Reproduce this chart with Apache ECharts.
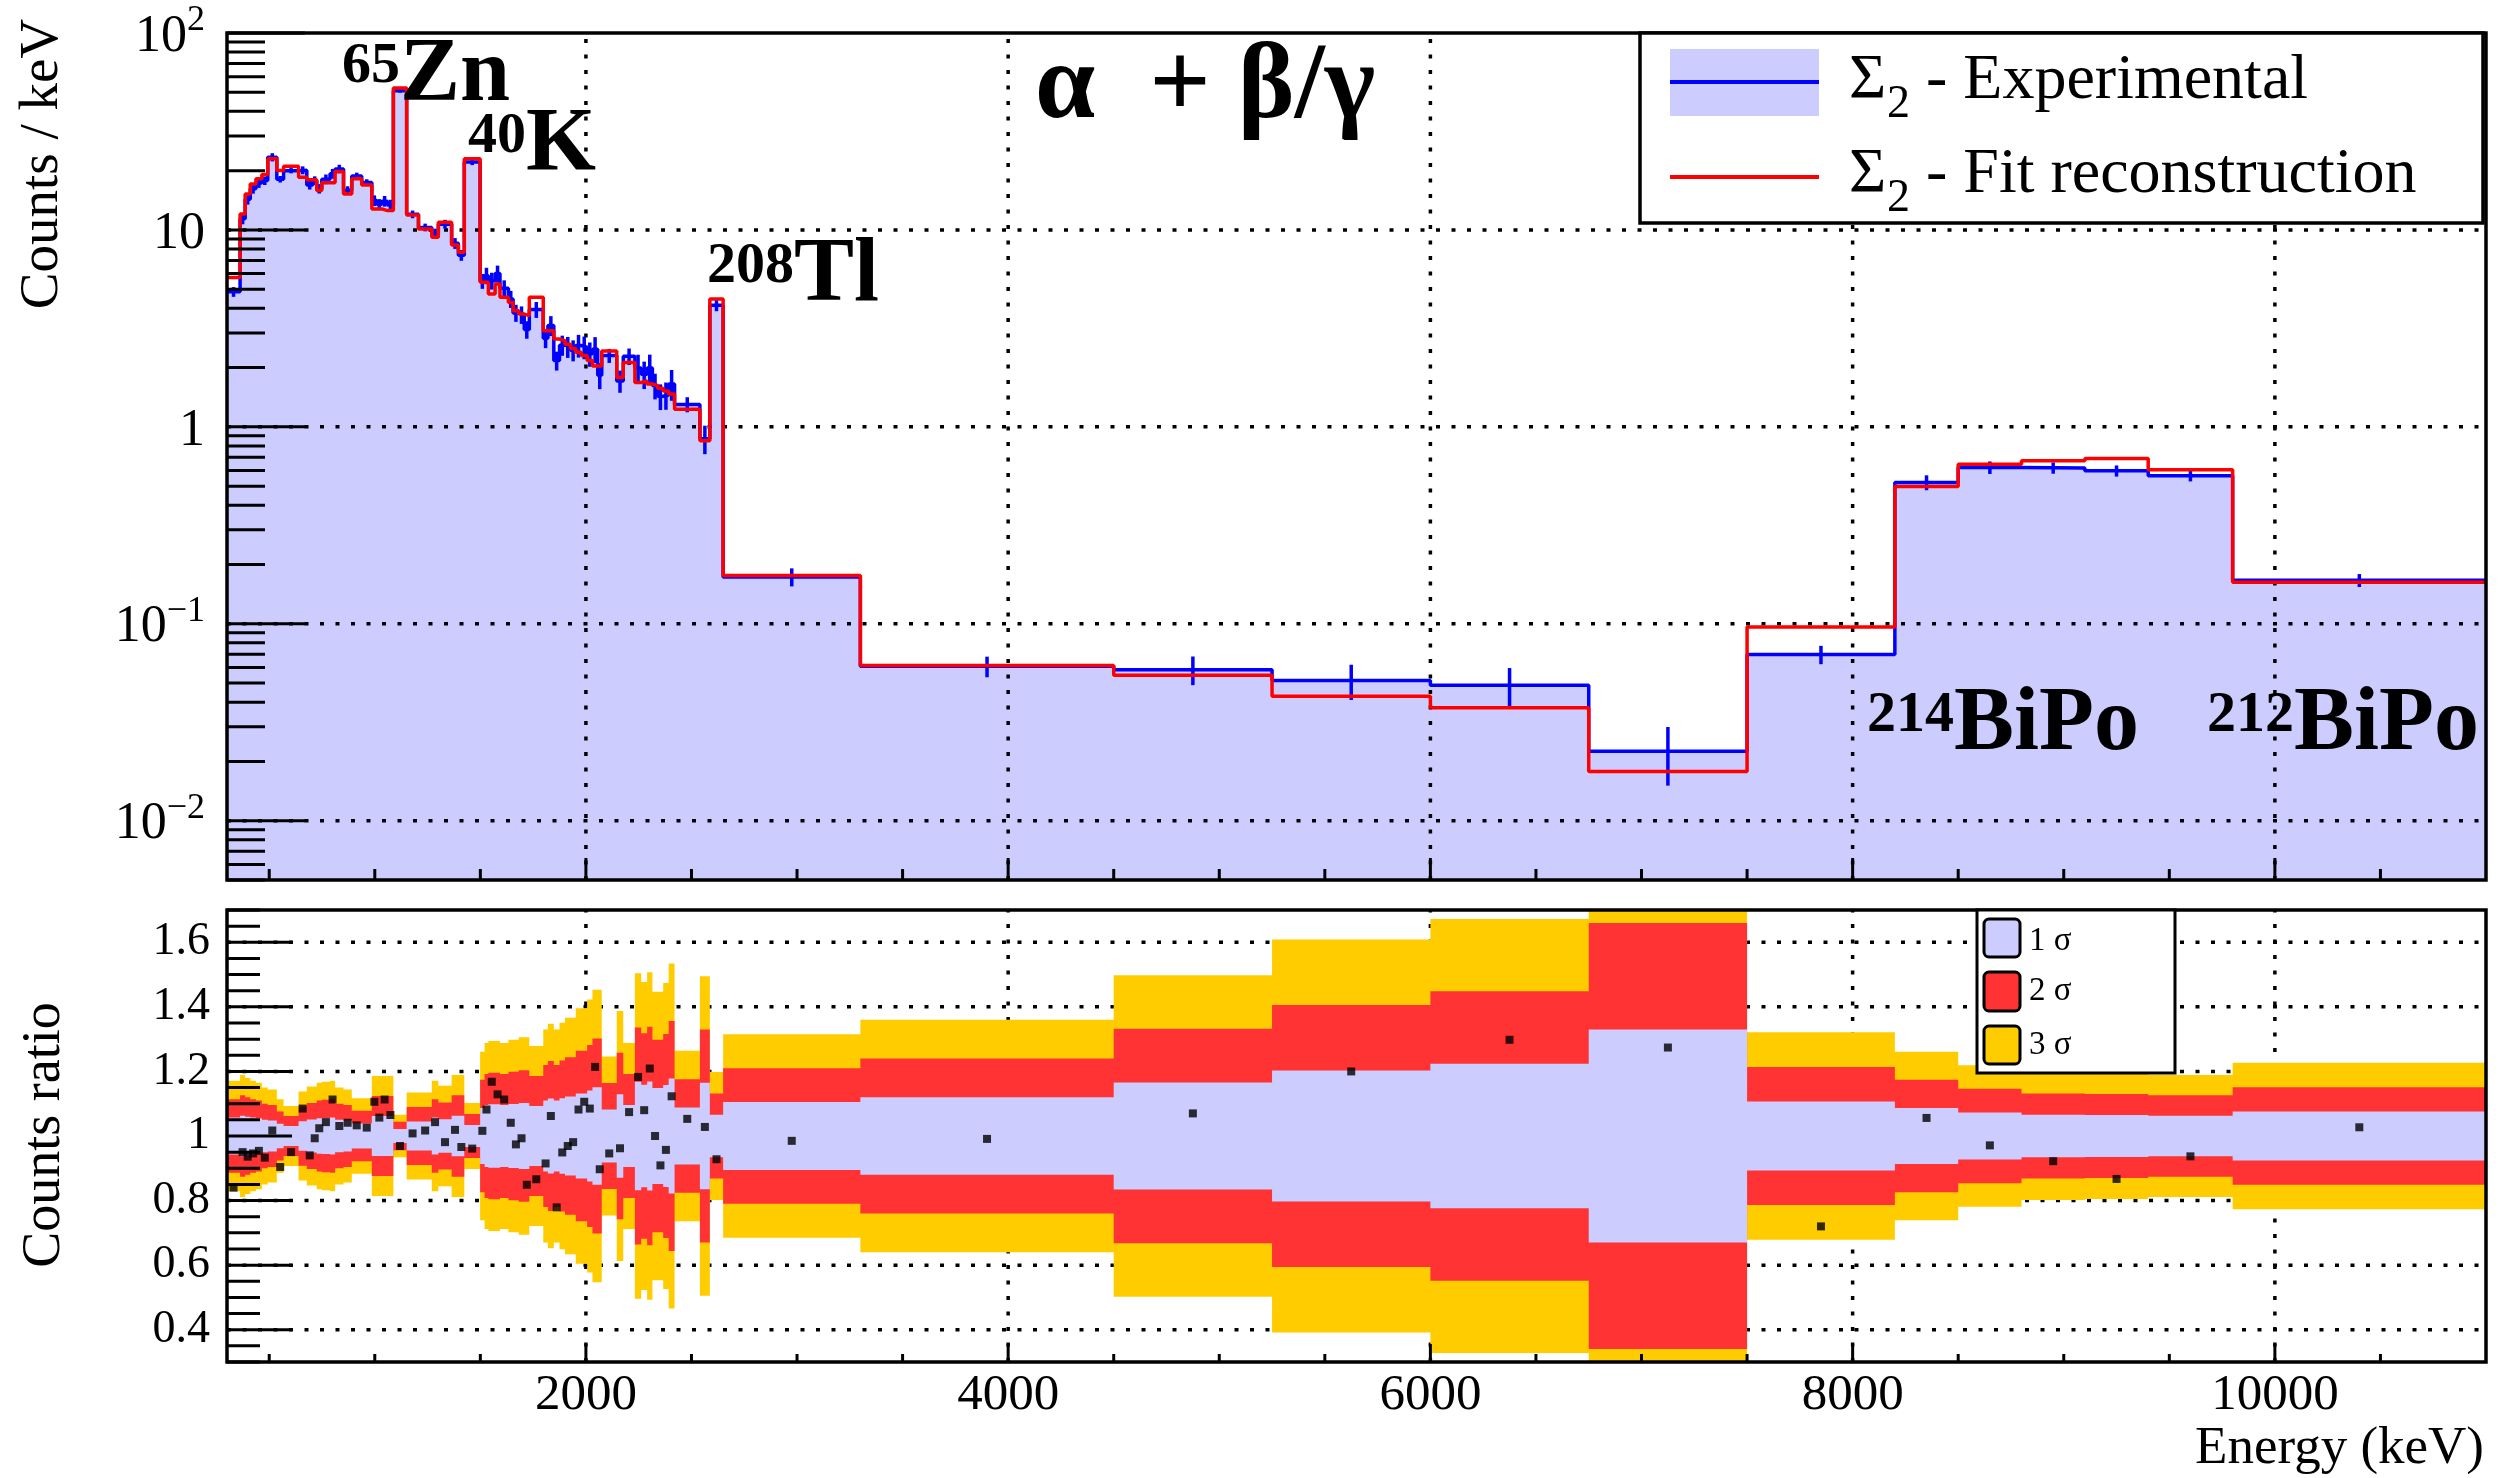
<!DOCTYPE html>
<html>
<head>
<meta charset="utf-8">
<script src="https://cdn.jsdelivr.net/npm/echarts@6/dist/echarts.min.js"></script>
<style>
  html, body { margin: 0; padding: 0; background: #fff; }
  #chart { width: 2517px; height: 1478px; }
</style>
</head>
<body>
<div id="chart"></div>
<script>
// bin edges in keV (variable binning)
const binEdges = [300, 362, 386, 410, 437, 465, 493, 536, 568, 639, 678, 706, 725, 749, 788, 812, 852, 891, 938, 986,
  1010, 1033, 1060, 1088, 1151, 1207, 1270, 1301, 1364, 1396, 1424, 1499, 1520, 1538, 1570, 1593, 1633, 1655, 1682, 1708,
  1732, 1798, 1820, 1848, 1875, 1901, 1927, 1952, 1978, 2006, 2031, 2056, 2075, 2146, 2177, 2232, 2262, 2290, 2315, 2340,
  2366, 2392, 2420, 2540, 2587, 2650, 3300, 4500, 5250, 6000, 6750, 7500, 8200, 8500, 8800, 9100, 9400, 9800, 11000];

// Sigma_2 experimental, counts / keV
const expCounts = [4.85, 11.4, 14.3, 16.2, 17.3, 17.8, 23.4, 18.1, 20.0, 20.1,
  16.9, 17.8, 16.2, 18.1, 19.3, 20.4, 15.9, 18.8, 17.4, 14.1,
  13.5, 14.0, 13.4, 50.9, 12.0, 10.3, 9.6, 10.7, 8.55, 7.44,
  22.1, 5.5, 5.86, 5.52, 6.0, 5.06, 4.46, 3.79, 3.71, 3.12,
  3.94, 2.82, 3.27, 2.17, 2.60, 2.55, 2.45, 2.59, 2.54, 2.35,
  2.48, 1.83, 2.30, 1.71, 2.28, 1.99, 1.85, 1.99, 1.62, 1.43,
  1.45, 1.65, 1.30, 0.87, 4.14,
  0.173, 0.0608, 0.0585, 0.0515, 0.0487, 0.0225, 0.0698, 0.522, 0.622, 0.619, 0.598, 0.564, 0.1663];

// Sigma_2 fit reconstruction, counts / keV
const fitCounts = [5.74, 12.06, 15.24, 17.13, 18.17, 19.11, 22.96, 20.03, 21.07, 18.52,
  17.96, 17.96, 15.85, 17.34, 17.34, 19.79, 15.24, 18.17, 16.93, 12.79,
  12.79, 12.54, 12.54, 52.5, 11.92, 10.12, 9.18, 10.94, 8.39, 7.70,
  23.0, 5.42, 5.42, 4.73, 5.31, 4.55, 4.28, 3.89, 3.74, 3.67,
  4.55, 3.08, 3.08, 2.79, 2.74, 2.63, 2.50, 2.39, 2.30, 2.17,
  2.04, 2.04, 2.43, 1.78, 2.12, 1.68, 1.71, 1.65, 1.62, 1.57,
  1.52, 1.47, 1.23, 0.85, 4.46,
  0.176, 0.0614, 0.0548, 0.0428, 0.0375, 0.0178, 0.0962, 0.498, 0.646, 0.672, 0.690, 0.605, 0.1624];

// experimental / fit
const countsRatio = [0.84, 0.95, 0.936, 0.946, 0.954, 0.933, 1.017, 0.904, 0.95, 1.085,
  0.94, 0.993, 1.024, 1.043, 1.113, 1.031, 1.041, 1.033, 1.026, 1.106,
  1.057, 1.113, 1.065, 0.969, 1.008, 1.017, 1.043, 0.981, 1.019, 0.966,
  0.961, 1.016, 1.082, 1.168, 1.129, 1.113, 1.041, 0.974, 0.993, 0.849,
  0.866, 0.915, 1.062, 0.779, 0.949, 0.969, 0.981, 1.082, 1.106, 1.085,
  1.214, 0.897, 0.946, 0.962, 1.074, 1.183, 1.08, 1.209, 1.0, 0.909,
  0.957, 1.123, 1.053, 1.028, 0.928,
  0.985, 0.991, 1.070, 1.20, 1.298, 1.274, 0.72, 1.056, 0.971, 0.922, 0.867, 0.937, 1.027];

// relative 1 sigma uncertainty per bin
const relError = [0.057, 0.063, 0.060, 0.057, 0.055, 0.050, 0.048, 0.038, 0.031, 0.046,
  0.051, 0.051, 0.055, 0.056, 0.057, 0.050, 0.048, 0.039, 0.039, 0.062,
  0.062, 0.062, 0.062, 0.022, 0.045, 0.045, 0.057, 0.052, 0.063, 0.063,
  0.034, 0.087, 0.096, 0.098, 0.098, 0.096, 0.0995, 0.0995, 0.102, 0.102,
  0.093, 0.110, 0.116, 0.110, 0.117, 0.122, 0.122, 0.132, 0.132, 0.141,
  0.151, 0.151, 0.082, 0.129, 0.096, 0.168, 0.159, 0.169, 0.149, 0.149,
  0.158, 0.178, 0.088, 0.165, 0.066,
  0.105, 0.120, 0.166, 0.203, 0.224, 0.330, 0.107, 0.087, 0.073, 0.066, 0.065, 0.063, 0.0755];

const energyTicks = [2000, 4000, 6000, 8000, 10000];
const countTicks = [0.01, 0.1, 1, 10, 100];
const ratioTicks = [0.4, 0.6, 0.8, 1, 1.2, 1.4, 1.6];

const SERIF = 'Liberation Serif';
const xLo = binEdges[0], xHi = binEdges[binEdges.length - 1];
const countsMin = 0.005, countsMax = 100, ratioMin = 0.3, ratioMax = 1.7;

const centers = expCounts.map((_, i) => (binEdges[i] + binEdges[i + 1]) / 2);

function stepData(vals) {
  const pts = vals.map((v, i) => [binEdges[i], v]);
  pts.push([xHi, vals[vals.length - 1]]);
  return pts;
}

// ticks, dotted grid and frame drawn through the axes
// item: [x, y, length, kind] kind 0 y-tick, 1 y-grid, 2 x-tick, 3 x-grid, 4 frame
function decorSeries(gi, items, ext, z) {
  return {
    type: 'custom', xAxisIndex: gi, yAxisIndex: gi, z: z, silent: true,
    data: items,
    renderItem: function (params, api) {
      const x = api.value(0), y = api.value(1), len = api.value(2), kind = api.value(3);
      if (kind === 4) {
        const a = api.coord([ext.x0, ext.y1]), b = api.coord([ext.x1, ext.y0]);
        return { type: 'rect', shape: { x: a[0], y: a[1], width: b[0] - a[0], height: b[1] - a[1] },
          style: { fill: 'none', stroke: '#000', lineWidth: 3.5 } };
      }
      let p, q;
      if (kind === 0 || kind === 1) {
        p = api.coord([ext.x0, y]);
        q = kind === 0 ? [p[0] + len, p[1]] : api.coord([ext.x1, y]);
      } else {
        p = api.coord([x, ext.y0]);
        q = kind === 2 ? [p[0], p[1] - len] : api.coord([x, ext.y1]);
      }
      const dotted = kind === 1 || kind === 3;
      return { type: 'line', shape: { x1: p[0], y1: p[1], x2: q[0], y2: q[1] },
        style: { stroke: '#000', lineWidth: dotted ? 3.5 : 3, lineDash: dotted ? [4, 11.5] : null } };
    }
  };
}

const upperExt = { x0: xLo, x1: xHi, y0: countsMin, y1: countsMax };
const lowerExt = { x0: xLo, x1: xHi, y0: ratioMin, y1: ratioMax };

const upperTicks = [[xLo, countsMin, 0, 4]];
countTicks.forEach(v => upperTicks.push([xLo, v, 78, 0]));
for (let n = -3; n <= 1; n++) {
  for (let k = 2; k <= 9; k++) {
    const v = k * Math.pow(10, n);
    if (v >= countsMin * 0.999 && v <= countsMax) upperTicks.push([xLo, v, 38, 0]);
  }
}
for (let e = 500; e < xHi; e += 500) upperTicks.push([e, countsMin, energyTicks.includes(e) ? 22 : 11, 2]);
const upperGrid = [];
countTicks.filter(v => v < countsMax).forEach(v => upperGrid.push([xLo, v, 0, 1]));
energyTicks.forEach(e => upperGrid.push([e, countsMin, 0, 3]));

const lowerTicks = [[xLo, ratioMin, 0, 4]];
for (let j = 6; j <= 34; j++) lowerTicks.push([xLo, j * 0.05, j % 4 === 0 ? 65 : 33, 0]);
for (let e = 500; e < xHi; e += 500) lowerTicks.push([e, ratioMin, energyTicks.includes(e) ? 18 : 8, 2]);
const lowerGrid = [];
ratioTicks.forEach(v => lowerGrid.push([xLo, v, 0, 1]));
energyTicks.forEach(e => lowerGrid.push([e, ratioMin, 0, 3]));

const bandColors = { 1: '#ccccff', 2: '#ff3333', 3: '#ffcc00' };

function logLabel(v) {
  const lg = Math.log10(v), e = Math.round(lg);
  if (Math.abs(lg - e) > 1e-6) return '';
  if (e === 1) return '{b|10}';
  if (e === 0) return '{b|1}';
  if (e > 1) return '{b|10}{s|' + e + '}';
  return '{b|10}{s|\u2212' + (-e) + '}';
}

function superText(x, y, sup, main) {
  return {
    type: 'text', x: x, y: y, z: 100,
    style: {
      text: '{s|' + sup + '}{m|' + main + '}',
      align: 'left', verticalAlign: 'top', textAlign: 'left', textVerticalAlign: 'top',
      rich: {
        s: { fontFamily: SERIF, fontWeight: 'bold', fontSize: 58, lineHeight: 58, padding: [6, 0, 0, 0], verticalAlign: 'top', fill: '#000', color: '#000' },
        m: { fontFamily: SERIF, fontWeight: 'bold', fontSize: 90, lineHeight: 90, verticalAlign: 'top', fill: '#000', color: '#000' }
      }
    }
  };
}

function plainText(x, y, text, size, opts) {
  return Object.assign({
    type: 'text', x: x, y: y, z: 101,
    style: {
      text: text, fontFamily: SERIF, fontSize: size, fill: '#000',
      align: (opts && opts.align) || 'left', textAlign: (opts && opts.align) || 'left',
      verticalAlign: 'middle', textVerticalAlign: 'middle',
      fontWeight: (opts && opts.bold) ? 'bold' : 'normal'
    }
  }, opts && opts.rotation ? { rotation: opts.rotation } : {});
}

// Sigma with subscript 2, then the label text; y is the baseline
function legendLabel(y, rest) {
  return [
    plainText(1849, y - 21.6, '\u03A3', 64),
    plainText(1887, y + 17 - 15.5, '2', 46),
    plainText(1910, y - 21.6, ' - ' + rest, 64)
  ];
}

const chart = echarts.init(document.getElementById('chart'), null, { renderer: 'canvas' });

chart.setOption({
  animation: false,
  backgroundColor: '#fff',
  grid: [
    { left: 227, top: 33, width: 2259, height: 847, outerBoundsMode: 'none' },
    { left: 227, top: 910, width: 2259, height: 452, outerBoundsMode: 'none' }
  ],
  xAxis: [
    { gridIndex: 0, type: 'value', min: xLo, max: xHi,
      axisLine: { show: false }, axisTick: { show: false }, axisLabel: { show: false }, splitLine: { show: false } },
    { gridIndex: 1, type: 'value', min: xLo, max: xHi,
      axisLine: { show: false }, axisTick: { show: false }, splitLine: { show: false },
      axisLabel: { customValues: energyTicks,
        fontFamily: SERIF, fontSize: 51, color: '#000', margin: 8,
        formatter: v => energyTicks.includes(v) ? String(v) : '' } }
  ],
  yAxis: [
    { gridIndex: 0, type: 'log', logBase: 10, min: countsMin, max: countsMax,
      axisLine: { show: false }, axisTick: { show: false }, splitLine: { show: false }, minorTick: { show: false },
      axisLabel: { customValues: countTicks, margin: 22, formatter: logLabel,
        rich: {
          b: { fontFamily: SERIF, fontSize: 52, lineHeight: 60, verticalAlign: 'bottom', color: '#000' },
          s: { fontFamily: SERIF, fontSize: 36, lineHeight: 30, verticalAlign: 'top', color: '#000' }
        } } },
    { gridIndex: 1, type: 'value', min: ratioMin, max: ratioMax,
      axisLine: { show: false }, axisTick: { show: false }, splitLine: { show: false },
      axisLabel: { customValues: ratioTicks,
        fontFamily: SERIF, fontSize: 46, color: '#000', margin: 17,
        formatter: v => {
          const r = Math.round(v * 10) / 10;
          return Math.abs(r - v) < 1e-6 && r >= 0.4 && r <= 1.6 ? String(r) : '';
        } } }
  ],
  series: [
    // upper panel
    { type: 'line', xAxisIndex: 0, yAxisIndex: 0, step: 'end', data: stepData(expCounts), symbol: 'none',
      lineStyle: { width: 0, opacity: 0 }, areaStyle: { color: '#ccccff', opacity: 1, origin: 'start' }, z: 1, silent: true },
    decorSeries(0, upperGrid, upperExt, 2),
    { type: 'line', xAxisIndex: 0, yAxisIndex: 0, step: 'end', data: stepData(expCounts), symbol: 'none',
      lineStyle: { color: '#0000ff', width: 3.5 }, z: 3, silent: true },
    { type: 'custom', xAxisIndex: 0, yAxisIndex: 0, z: 3, silent: true, clip: true,
      data: centers.map((c, i) => [c, expCounts[i], expCounts[i] * (1 - relError[i]), expCounts[i] * (1 + relError[i])]),
      renderItem: function (params, api) {
        const p = api.coord([api.value(0), api.value(2)]), q = api.coord([api.value(0), api.value(3)]);
        return { type: 'line', shape: { x1: p[0], y1: p[1], x2: q[0], y2: q[1] }, style: { stroke: '#0000ff', lineWidth: 3.5 } };
      } },
    { type: 'line', xAxisIndex: 0, yAxisIndex: 0, step: 'end', data: stepData(fitCounts), symbol: 'none',
      lineStyle: { color: '#ff0000', width: 3.5 }, z: 4, silent: true },
    decorSeries(0, upperTicks, upperExt, 6),

    // lower panel
    decorSeries(1, lowerGrid, lowerExt, 1),
    { type: 'custom', xAxisIndex: 1, yAxisIndex: 1, z: 2, silent: true, clip: true,
      data: [[xLo, 1, 3], [xLo, 1, 2], [xLo, 1, 1]],
      renderItem: function (params, api) {
        const k = api.value(2), pts = [];
        for (let i = 0; i < relError.length; i++) {
          const up = 1 + k * relError[i];
          pts.push(api.coord([binEdges[i], up]), api.coord([binEdges[i + 1], up]));
        }
        for (let i = relError.length - 1; i >= 0; i--) {
          const dn = 1 - k * relError[i];
          pts.push(api.coord([binEdges[i + 1], dn]), api.coord([binEdges[i], dn]));
        }
        return { type: 'polygon', shape: { points: pts }, style: { fill: bandColors[k] } };
      } },
    { type: 'scatter', xAxisIndex: 1, yAxisIndex: 1, symbol: 'rect', symbolSize: 8, z: 5, silent: true,
      itemStyle: { color: '#000' }, data: centers.map((c, i) => [c, countsRatio[i]]) },
    decorSeries(1, lowerTicks, lowerExt, 6)
  ],
  graphic: [
    // axis titles
    plainText(43, 164, 'Counts / keV', 55, { align: 'center', rotation: Math.PI / 2 }),
    plainText(45, 1135, 'Counts ratio', 54, { align: 'center', rotation: Math.PI / 2 }),
    plainText(2484, 1449, 'Energy (keV)', 53, { align: 'right' }),

    // peak annotations
    superText(342, 32, '65', 'Zn'),
    superText(468, 102, '40', 'K'),
    superText(707, 232, '208', 'Tl'),
    superText(1867, 681, '214', 'BiPo'),
    superText(2207, 681, '212', 'BiPo'),
    plainText(1035, 89, '\u03B1  + \u03B2/\u03B3', 108, { bold: true }),

    // upper legend
    { type: 'rect', z: 100, shape: { x: 1640, y: 33, width: 843, height: 190 },
      style: { fill: '#fff', stroke: '#000', lineWidth: 3.5 } },
    { type: 'rect', z: 101, shape: { x: 1670, y: 49, width: 149, height: 67 }, style: { fill: '#ccccff' } },
    { type: 'line', z: 102, shape: { x1: 1670, y1: 82, x2: 1819, y2: 82 }, style: { stroke: '#0000ff', lineWidth: 4 } },
    { type: 'line', z: 102, shape: { x1: 1670, y1: 177, x2: 1819, y2: 177 }, style: { stroke: '#ff0000', lineWidth: 4 } },
    ...legendLabel(103, 'Experimental'),
    ...legendLabel(197, 'Fit reconstruction'),

    // lower legend
    { type: 'rect', z: 100, shape: { x: 1977, y: 910, width: 198, height: 163 },
      style: { fill: '#fff', stroke: '#000', lineWidth: 3 } },
    { type: 'rect', z: 101, shape: { x: 1984, y: 919, width: 36, height: 38, r: 5 },
      style: { fill: '#ccccff', stroke: '#000', lineWidth: 3 } },
    { type: 'rect', z: 101, shape: { x: 1984, y: 972, width: 36, height: 39, r: 5 },
      style: { fill: '#ff3333', stroke: '#000', lineWidth: 3 } },
    { type: 'rect', z: 101, shape: { x: 1984, y: 1026, width: 36, height: 38, r: 5 },
      style: { fill: '#ffcc00', stroke: '#000', lineWidth: 3 } },
    plainText(2029, 941, '1 \u03C3', 33),
    plainText(2029, 991, '2 \u03C3', 33),
    plainText(2029, 1045, '3 \u03C3', 33)
  ]
});
</script>
</body>
</html>
